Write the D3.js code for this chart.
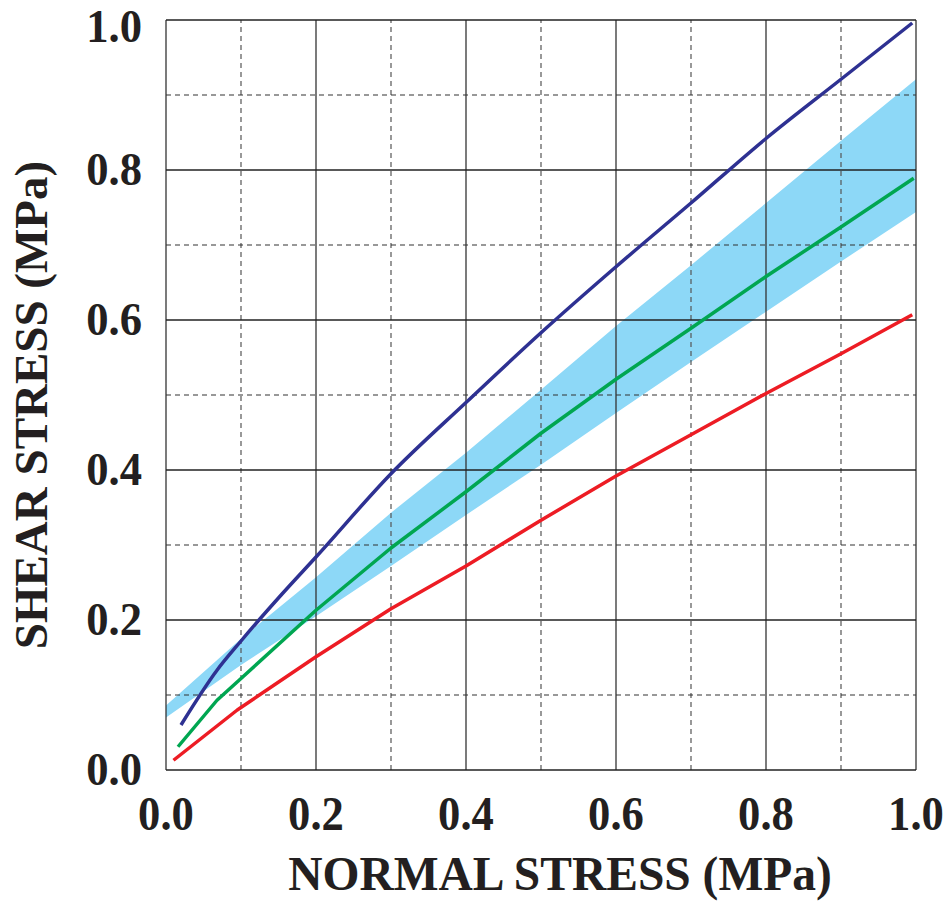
<!DOCTYPE html>
<html><head><meta charset="utf-8">
<script src="https://cdn.jsdelivr.net/npm/d3@7"></script>
<style>body{margin:0;background:#fff}svg{display:block}</style>
</head><body>
<svg id="chart" width="951" height="901"></svg>
<script>
const xTicks = [0, 0.2, 0.4, 0.6, 0.8, 1.0];
const yTicks = [0, 0.2, 0.4, 0.6, 0.8, 1.0];
const gridMinor = [0.1, 0.3, 0.5, 0.7, 0.9];
const blueLine = [[0.02,0.06],[0.068,0.133],[0.1,0.172],[0.155,0.235],[0.2,0.284],[0.3,0.395],[0.4,0.49],[0.5,0.583],[0.6,0.671],[0.7,0.756],[0.8,0.842],[0.9,0.921],[0.995,0.996]];
const greenLine = [[0.016,0.031],[0.068,0.093],[0.1,0.122],[0.2,0.213],[0.3,0.296],[0.4,0.371],[0.5,0.449],[0.6,0.521],[0.7,0.589],[0.8,0.658],[0.9,0.724],[0.997,0.789]];
const redLine = [[0.01,0.013],[0.095,0.08],[0.2,0.151],[0.3,0.215],[0.4,0.272],[0.5,0.333],[0.6,0.392],[0.7,0.447],[0.8,0.502],[0.9,0.555],[0.995,0.607]];
const bandX = [0,0.1,0.2,0.3,0.4,0.5,0.6,0.7,0.8,0.9,1.0];
const bandUpper = [0.086,0.175,0.257,0.343,0.423,0.507,0.592,0.673,0.756,0.839,0.921];
const bandLower = [0.07,0.14,0.205,0.272,0.34,0.407,0.476,0.544,0.611,0.678,0.744];

const svg = d3.select('#chart');
const x = d3.scaleLinear().domain([0,1]).range([166,916]);
const y = d3.scaleLinear().domain([0,1]).range([770,20]);
const font = '"Liberation Serif","Times New Roman",serif';
const ink = '#231f20';

// band
const band = bandX.map((v,i)=>({x:v,lo:bandLower[i],hi:bandUpper[i]}));
svg.append('path').datum(band)
  .attr('d', d3.area().x(d=>x(d.x)).y0(d=>y(d.lo)).y1(d=>y(d.hi)))
  .attr('fill','#8dd8f7');

// grid
const g = svg.append('g');
g.selectAll('.vmin').data(gridMinor).join('line')
  .attr('x1',d=>x(d)).attr('x2',d=>x(d)).attr('y1',y(0)).attr('y2',y(1))
  .attr('stroke','#555').attr('stroke-width',1.2).attr('stroke-dasharray','5,4');
g.selectAll('.hmin').data(gridMinor).join('line')
  .attr('y1',d=>y(d)).attr('y2',d=>y(d)).attr('x1',x(0)).attr('x2',x(1))
  .attr('stroke','#333').attr('stroke-width',1.2).attr('stroke-dasharray','5,4');
g.selectAll('.vmaj').data(xTicks).join('line')
  .attr('x1',d=>x(d)).attr('x2',d=>x(d)).attr('y1',y(0)).attr('y2',y(1))
  .attr('stroke','#333').attr('stroke-width',1.3);
g.selectAll('.hmaj').data(yTicks).join('line')
  .attr('y1',d=>y(d)).attr('y2',d=>y(d)).attr('x1',x(0)).attr('x2',x(1))
  .attr('stroke','#222').attr('stroke-width',1.3);

// lines
const line = d3.line().x(d=>x(d[0])).y(d=>y(d[1]));
const smooth = d3.line().x(d=>x(d[0])).y(d=>y(d[1])).curve(d3.curveMonotoneX);
[[redLine,'#ed1c24',line],[greenLine,'#00a651',line],[blueLine,'#2e3192',smooth]].forEach(([data,c,gen])=>{
  svg.append('path').datum(data).attr('d',gen).attr('fill','none')
    .attr('stroke',c).attr('stroke-width',3.5).attr('stroke-linejoin','round');
});

// tick labels
svg.selectAll('.xt').data(xTicks).join('text')
  .attr('transform',d=>`translate(${x(d)},830) scale(0.93,1)`).attr('text-anchor','middle')
  .attr('font-family',font).attr('font-weight','bold').attr('font-size',48).attr('fill',ink)
  .text(d=>d3.format('.1f')(d));
svg.selectAll('.yt').data(yTicks).join('text')
  .attr('transform',d=>`translate(142,${Math.max(y(d)+15,42)}) scale(0.97,1)`).attr('text-anchor','end')
  .attr('font-family',font).attr('font-weight','bold').attr('font-size',46).attr('fill',ink)
  .text(d=>d3.format('.1f')(d));

// titles
svg.append('text').attr('x',560).attr('y',890).attr('text-anchor','middle')
  .attr('font-family',font).attr('font-weight','bold').attr('font-size',47.5).attr('fill',ink)
  .text('NORMAL STRESS (MPa)');
svg.append('text').attr('transform','translate(47,405) rotate(-90)').attr('text-anchor','middle')
  .attr('font-family',font).attr('font-weight','bold').attr('font-size',47).attr('fill',ink)
  .text('SHEAR STRESS (MPa)');
</script>
</body></html>
